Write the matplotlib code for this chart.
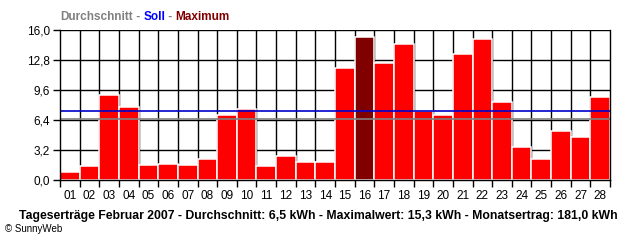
import matplotlib
matplotlib.use('Agg')
import matplotlib.pyplot as plt
import numpy as np

plt.rcParams['font.family'] = ['Liberation Sans', 'DejaVu Sans']

days = ['%02d' % d for d in range(1, 29)]
ertrag = [0.89, 1.46, 9.10, 7.82, 1.56, 1.74, 1.56, 2.28, 6.97, 7.61,
          1.53, 2.60, 1.96, 1.96, 11.98, 15.30, 12.52, 14.54, 7.40, 6.97,
          13.48, 15.08, 8.36, 3.56, 2.28, 5.26, 4.62, 8.89]
durchschnitt = 6.5
soll = 7.4
yticks = [0.0, 3.2, 6.4, 9.6, 12.8, 16.0]


def main():
	fig = plt.figure(figsize=(6.4, 2.4), dpi=100)
	ax = fig.add_axes([60/640, 1-180/240, 550/640, 150/240])

	x = np.arange(1, len(days)+1)
	imax = int(np.argmax(ertrag))
	colors = ['#ff0000']*len(ertrag)
	colors[imax] = '#800000'
	ax.bar(x, ertrag, width=1.0, color=colors, edgecolor='white', linewidth=1.1, zorder=3)

	ax.axhline(durchschnitt, color='#808080', lw=1.2, zorder=4)
	ax.axhline(soll, color='#0000cc', lw=1.2, zorder=4)

	ax.set_xlim(0.5, len(days)+0.5)
	ax.set_ylim(0, 16)
	for yv in yticks[1:]:
		ax.axhline(yv, color='black', lw=1.0, zorder=1)
	for xb in np.arange(1.5, len(days), 1.0):
		ax.axvline(xb, color='black', lw=1.0, zorder=1)

	ax.set_yticks(yticks)
	ax.set_yticklabels([('%.1f' % v).replace('.', ',') for v in yticks], fontsize=8.5)
	ax.set_xticks(np.arange(0.5, len(days)+1, 1.0))
	ax.set_xticklabels([])
	ax.set_xticks(x, minor=True)
	ax.set_xticklabels(days, minor=True, fontsize=8.5)
	ax.tick_params(axis='x', which='major', length=5, width=1.0, direction='out')
	ax.tick_params(axis='x', which='minor', length=0, pad=7)
	ax.tick_params(axis='y', length=5, width=1.0, direction='out', pad=2)
	for s in ax.spines.values():
		s.set_linewidth(1.0)
		s.set_zorder(5)
	ax.spines['top'].set_visible(False)

	t1 = fig.text(60/640, 1-17/240, 'Durchschnitt', color='#808080', fontsize=8.5,
	              fontweight='bold', va='center')
	t2 = ax.annotate(' - ', xy=(1, 0), xycoords=t1, va='bottom', color='#808080',
	                 fontsize=8.5, fontweight='bold')
	t3 = ax.annotate('Soll', xy=(1, 0), xycoords=t2, va='bottom', color='#0000ff',
	                 fontsize=8.5, fontweight='bold')
	t4 = ax.annotate(' - ', xy=(1, 0), xycoords=t3, va='bottom', color='#808080',
	                 fontsize=8.5, fontweight='bold')
	ax.annotate('Maximum', xy=(1, 0), xycoords=t4, va='bottom', color='#800000',
	            fontsize=8.5, fontweight='bold')

	fig.text(318/640, 1-216/240,
	         'Tageserträge Februar 2007 - Durchschnitt: 6,5 kWh - Maximalwert: 15,3 kWh - Monatsertrag: 181,0 kWh',
	         ha='center', va='center', fontsize=8.8, fontweight='bold')
	fig.text(5/640, 1-229/240, '© SunnyWeb', ha='left', va='center', fontsize=7)

	plt.savefig('out.png', dpi=100)

if __name__ == '__main__':
	main()
